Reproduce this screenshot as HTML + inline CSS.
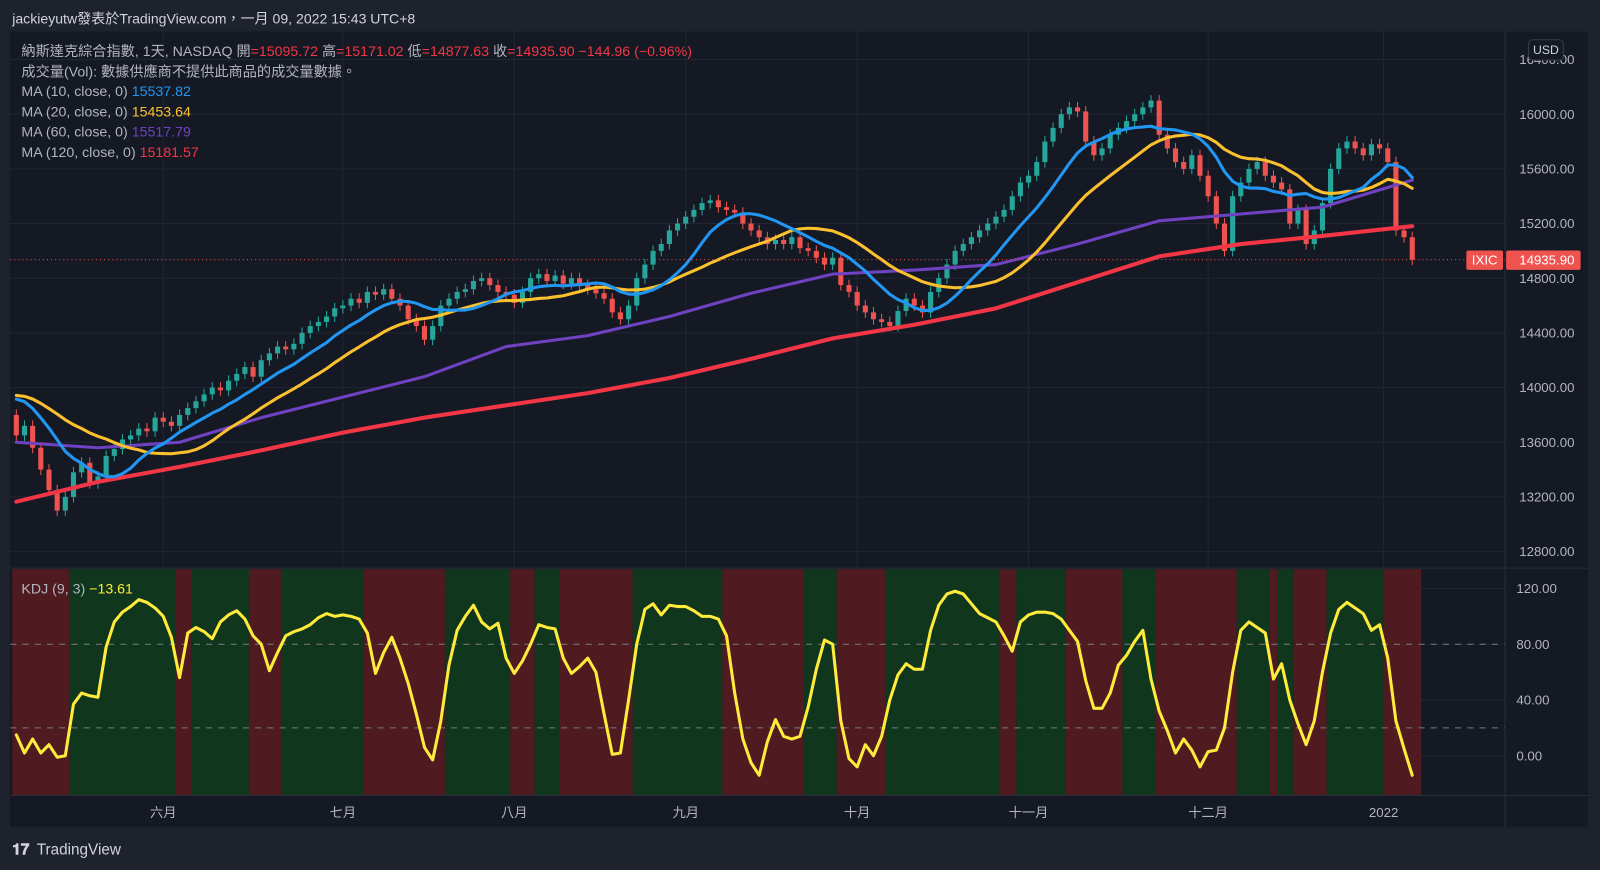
<!DOCTYPE html>
<html><head><meta charset="utf-8">
<style>
html,body{margin:0;padding:0;background:#1e222d;overflow:hidden}
svg{display:block}
text{font-family:"Liberation Sans","Noto Sans CJK TC",sans-serif}
</style></head>
<body>
<svg id="chart" width="1600" height="870" viewBox="0 0 1568 853" preserveAspectRatio="none" xmlns="http://www.w3.org/2000/svg">
<rect x="0" y="0" width="1568" height="853" fill="#1e222d"/>
<rect x="10" y="31" width="1546" height="780" fill="#151924"/>
<g id="grid"></g>
<g id="bands"></g>
<g id="candles"></g>
<g id="mas"></g>
<g id="kdj"></g>
<g id="axes"></g>
<text x="12" y="23" fill="#d1d4dc" font-size="13.8">jackieyutw發表於TradingView.com，一月 09, 2022 15:43 UTC+8</text>
<g font-size="13.9" fill="#b2b5be">
<text x="21" y="55">納斯達克綜合指數, 1天, NASDAQ  開<tspan fill="#f23645">=15095.72</tspan>  高<tspan fill="#f23645">=15171.02</tspan>  低<tspan fill="#f23645">=14877.63</tspan>  收<tspan fill="#f23645">=14935.90  −144.96 (−0.96%)</tspan></text>
<text x="21" y="75">成交量(Vol): 數據供應商不提供此商品的成交量數據。</text>
<text x="21" y="94">MA (10, close, 0)  <tspan fill="#2196f3">15537.82</tspan></text>
<text x="21" y="114">MA (20, close, 0)  <tspan fill="#fbc02d">15453.64</tspan></text>
<text x="21" y="134">MA (60, close, 0)  <tspan fill="#6f42c1">15517.79</tspan></text>
<text x="21" y="154">MA (120, close, 0)  <tspan fill="#f23645">15181.57</tspan></text>
<text x="21" y="582">KDJ (9, 3)  <tspan fill="#ffeb3b">−13.61</tspan></text>
</g>
<g>
<text x="12" y="838" fill="#d1d4dc" font-size="15" font-weight="bold">𝟏𝟕</text>
<text x="36" y="838" fill="#d1d4dc" font-size="15">TradingView</text>
</g>
</svg>
<script>
const closes=[13650,13720,13560,13400,13250,13100,13200,13380,13450,13300,
13350,13500,13550,13620,13650,13700,13680,13780,13750,13720,
13800,13850,13900,13950,14000,13980,14050,14100,14150,14080,
14200,14250,14300,14280,14320,14400,14450,14480,14520,14580,
14600,14650,14620,14700,14680,14720,14650,14600,14500,14450,
14350,14450,14600,14650,14700,14720,14780,14800,14750,14700,
14680,14620,14700,14800,14830,14780,14820,14760,14800,14750,
14720,14690,14650,14550,14500,14600,14800,14900,15000,15050,
15150,15200,15250,15300,15350,15370,15320,15300,15280,15200,
15150,15100,15050,15080,15050,15100,15020,15000,14950,14900,
14950,14750,14700,14600,14550,14500,14480,14450,14560,14650,
14600,14550,14700,14800,14900,15000,15050,15100,15150,15200,
15250,15300,15400,15500,15550,15650,15800,15900,16000,16050,
16020,15800,15700,15750,15850,15900,15950,16000,16050,16100,
15850,15750,15650,15600,15700,15550,15400,15200,15000,15400,
15500,15600,15650,15550,15500,15450,15200,15300,15050,15150,
15350,15600,15750,15800,15750,15700,15780,15750,15650,15150,
15100,14935];
const preHistory=[13850,13950,14050,14000,13900,14050,14100,14000,13950,13850,13900,14050,14100,14000,13950,14050,13900,13800,13750];
const firstOpen=13800;
const ma60=[13600,13560,13600,13780,13930,14080,14300,14380,14520,14690,14830,14860,14900,15050,15220,15270,15320,15500,15518];
const ma120=[13165,13310,13420,13540,13670,13780,13870,13960,14070,14210,14360,14460,14580,14770,14960,15050,15110,15175,15181];
const maSampleDays=[0,10,20,30,40,50,60,70,80,90,100,110,120,130,140,150,160,170,171];
const kdjJ=[15,2,12,2,8,-1,0,37,45,43,42,78,96,103,107,112,110,106,100,85,
56,88,92,89,84,96,101,104,98,86,80,61,74,86,89,91,94,99,102,100,
101,100,98,88,59,74,85,70,52,30,6,-3,25,65,90,100,108,96,91,95,
70,59,68,80,94,92,91,70,59,64,70,60,30,1,2,40,80,105,109,101,
108,107,107,104,100,100,98,86,45,12,-5,-14,10,26,14,12,14,35,62,83,
80,25,-2,-8,8,0,14,40,58,66,62,62,90,108,116,118,116,109,102,99,
96,86,75,96,101,103,103,102,98,90,82,54,34,34,45,65,72,82,90,55,
32,18,2,12,4,-8,3,4,20,60,90,96,92,88,55,66,40,23,8,25,
60,88,105,110,106,102,90,94,70,25,5,-14];
const bandEdges=[0,7,20,22,29,33,43,53,61,64,67,76,87,97,101,107,121,123,129,136,140,150,154,155,157,161,168,172.6];
const priceTicks=[12800,13200,13600,14000,14400,14800,15200,15600,16000,16400];
const kdjTicks=[0,40,80,120];
const kdjDashed=[80,20];
const monthLabels=["六月","七月","八月","九月","十月","十一月","十二月","2022"];
const monthDays=[18,40,61,82,103,124,146,167.5];
const lastPrice=14935.90;

const NS="http://www.w3.org/2000/svg";
const X0=10,X1=1475,PT=31,PB=557,KT=557,KB=780;
const xDay=i=>16+i*8;
const yP=p=>112+(16000-p)*0.134;
const yK=v=>741-v*1.367;
function mk(tag,attrs,parent){const e=document.createElementNS(NS,tag);for(const k in attrs)e.setAttribute(k,attrs[k]);parent.appendChild(e);return e;}
const G=id=>document.getElementById(id);

const grid=G('grid');
priceTicks.forEach(p=>{const l=mk('line',{x1:X0,x2:X1,y1:yP(p),y2:yP(p),stroke:'#222634','stroke-width':1},grid);

});
kdjTicks.forEach(v=>{const l=mk('line',{x1:X0,x2:X1,y1:yK(v),y2:yK(v),stroke:'#222634','stroke-width':1},grid);

});
monthDays.forEach(d=>{const l=mk('line',{x1:xDay(d),x2:xDay(d),y1:PT,y2:KB,stroke:'#222634','stroke-width':1},grid);

});

const bands=G('bands');
for(let k=0;k<bandEdges.length-1;k++){
 const xa=12+bandEdges[k]*8,xb=12+bandEdges[k+1]*8;
 const r=mk('rect',{x:xa,y:KT+1,width:xb-xa,height:KB-KT-1,fill:k%2===0?'#4f1a20':'#10361d'},bands);
 
 
}
kdjDashed.forEach(v=>{const l=mk('line',{x1:X0,x2:X1,y1:yK(v),y2:yK(v),stroke:'#787b86','stroke-width':1,'stroke-dasharray':'6 6'},bands);

});

const cg=G('candles');
closes.forEach((c,i)=>{
 const o=i===0?firstOpen:closes[i-1];
 const up=c>=o,col=up?'#26a69a':'#ef5350';
 const hi=Math.max(o,c)+40,lo=Math.min(o,c)-40,x=xDay(i);
 const g=mk('g',{},cg);
 
 
 mk('line',{x1:x,x2:x,y1:yP(hi),y2:yP(lo),stroke:col,'stroke-width':1},g);
 const yt=yP(Math.max(o,c)),yb=yP(Math.min(o,c));
 mk('rect',{x:x-2.5,y:yt,width:5,height:Math.max(1,yb-yt),fill:col},g);
});

const all=preHistory.concat(closes);
function smaAt(i,n){const j=i+preHistory.length;let s=0,c=0;for(let k=Math.max(0,j-n+1);k<=j;k++){s+=all[k];c++;}return s/c;}
function drawLine(pts,color,w,name,parent){
 const p=mk('polyline',{points:pts.map(q=>q[0].toFixed(1)+','+q[1].toFixed(1)).join(' '),fill:'none',stroke:color,'stroke-width':w,'stroke-linejoin':'round','stroke-linecap':'round'},parent);
 
 
}
const mg=G('mas');
drawLine(maSampleDays.map((d,k)=>[xDay(d),yP(ma120[k])]),'#f23645',4,'ma120-line',mg);
drawLine(maSampleDays.map((d,k)=>[xDay(d),yP(ma60[k])]),'#6f42c1',3,'ma60-line',mg);
drawLine(closes.map((c,i)=>[xDay(i),yP(smaAt(i,20))]),'#fbc02d',3,'ma20-line',mg);
drawLine(closes.map((c,i)=>[xDay(i),yP(smaAt(i,10))]),'#2196f3',3,'ma10-line',mg);
const lp=mk('line',{x1:X0,x2:X1,y1:yP(lastPrice),y2:yP(lastPrice),stroke:'#ef5350','stroke-width':1,'stroke-dasharray':'1 3'},mg);



drawLine(kdjJ.map((v,i)=>[xDay(i),yK(v)]),'#ffeb3b',3,'kdj-j-line',G('kdj'));

const ax=G('axes');
[['line',{x1:X1,x2:X1,y1:PT,y2:811,stroke:'#2a2e39'}],['line',{x1:X0,x2:1556,y1:KT,y2:KT,stroke:'#2a2e39'}],['line',{x1:X0,x2:1556,y1:KB,y2:KB,stroke:'#2a2e39'}]].forEach(a=>{const l=mk(a[0],a[1],ax);

});
priceTicks.forEach(p=>{const t=mk('text',{x:1543,y:yP(p)+4.5,fill:'#b2b5be','font-size':13,'text-anchor':'end'},ax);t.textContent=p.toFixed(2);

});
kdjTicks.forEach(v=>{const t=mk('text',{x:1486,y:yK(v)+4.5,fill:'#b2b5be','font-size':13},ax);t.textContent=v.toFixed(2);

});
monthLabels.forEach((m,k)=>{const t=mk('text',{x:xDay(monthDays[k]),y:801,fill:'#b2b5be','font-size':13,'text-anchor':'middle'},ax);t.textContent=m;

});
const ub=mk('rect',{x:1498,y:39,width:34,height:20,rx:4,fill:'#151924',stroke:'#3a3e4a'},ax);


const ut=mk('text',{x:1515,y:53,fill:'#d1d4dc','font-size':12,'text-anchor':'middle'},ax);ut.textContent='USD';


const yl=yP(lastPrice);
const r1=mk('rect',{x:1437,y:yl-9,width:36,height:19,rx:2,fill:'#ef5350'},ax);


const t1=mk('text',{x:1455,y:yl+4.5,fill:'#fff','font-size':13,'text-anchor':'middle'},ax);t1.textContent='IXIC';


const r2=mk('rect',{x:1476,y:yl-9,width:73,height:19,rx:2,fill:'#ef5350'},ax);


const t2=mk('text',{x:1543,y:yl+4.5,fill:'#fff','font-size':13,'text-anchor':'end'},ax);t2.textContent=lastPrice.toFixed(2);


</script>
</body></html>
